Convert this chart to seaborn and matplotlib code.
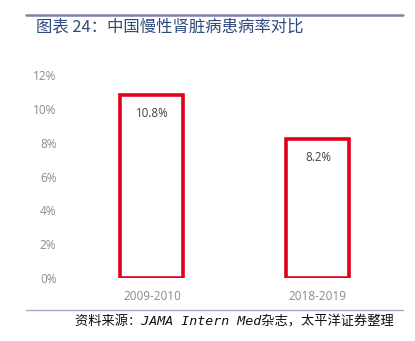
import matplotlib
matplotlib.use("Agg")
import matplotlib.pyplot as plt
import seaborn as sns
import pandas as pd
from matplotlib.lines import Line2D

periods = ["2009-2010", "2018-2019"]
prevalence = [10.8, 8.2]
yticks = [0, 2, 4, 6, 8, 10, 12]
title = "图表 24：中国慢性肾脏病患病率对比"
source = "资料来源：JAMA Intern Med杂志，太平洋证券整理"

sns.set_theme(style="white")
plt.rcParams['font.family'] = ['Open Sans', 'Noto Sans CJK SC', 'DejaVu Sans']

df = pd.DataFrame({"period": periods, "value": prevalence})

fig = plt.figure(figsize=(4.15, 3.41), dpi=100)
ax = fig.add_axes([0.166, 0.1848, 0.8, 0.5952])
sns.barplot(data=df, x="period", y="value", ax=ax, fill=False,
            edgecolor="#e0001b", linewidth=2.6, width=0.38, errorbar=None)
for p in ax.patches:
    p.set_edgecolor("#e0001b")
    p.set_facecolor("none")
    p.set_linewidth(2.6)

ax.set_ylim(0, 12)
ax.set_xlim(-0.5, 1.5)
ax.set_yticks(yticks)
ax.set_yticklabels([f"{t}%" for t in yticks], fontsize=8.5, color="#8a8a8a")
ax.set_xticklabels(periods, fontsize=8.5, color="#8a8a8a")
ax.tick_params(axis="both", length=0)
ax.tick_params(axis="y", pad=9)
ax.tick_params(axis="x", pad=9)
ax.set_xlabel("")
ax.set_ylabel("")
for s in ax.spines.values():
    s.set_visible(False)

for i, v in enumerate(prevalence):
    ax.text(i, v - 1.05, f"{v}%", ha="center", va="center", fontsize=8.3, color="#404040")

fig.add_artist(Line2D([26/415, 403/415], [1 - 15/341, 1 - 15/341], color="#7f7faf", lw=1.8))
fig.add_artist(Line2D([26/415, 403/415], [1 - 310/341, 1 - 310/341], color="#a5a5cc", lw=1.0))

fig.text(36/415, 1 - 27/341, title, fontsize=11.8, color="#2f4a7f", va="center", ha="left",
         family=['Noto Sans CJK SC', 'DejaVu Sans'])
fig.text(75/415, 1 - 322/341, source, fontsize=9.5, color="#111111", va="center", ha="left",
         style="italic", family=['DejaVu Sans Mono', 'Noto Sans CJK SC'])

fig.savefig("out.png", dpi=100)
